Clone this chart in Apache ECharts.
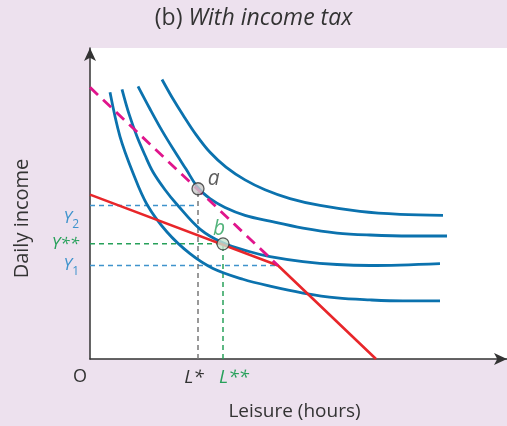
<!DOCTYPE html>
<html>
<head>
<meta charset="utf-8">
<script src="https://cdn.jsdelivr.net/npm/echarts@6/dist/echarts.min.js"></script>
<style>
html, body { margin: 0; padding: 0; background: #ede1ee; }
#main { width: 507px; height: 426px; }
</style>
</head>
<body>
<div id="main"></div>
<script>
// indifference curves, lowest to highest (leisure, income)
var curve1 = [[20,271],[30,226],[43,189],[57,157],[77,129],[100,107],[123,92],[153,81],[180,74],[213,67],[247,62],[280,60],[313,59],[350,59]];
var curve2 = [[32,274],[39,249],[47,226],[55,207],[63,190],[75,172],[87,157],[110,132],[133,118],[160,109],[180,104],[213,99],[247,96],[280,95],[350,97]];
var curve3 = [[48,277],[60,254],[72,232],[84,212],[96,193],[108,174],[120,163],[135,154],[155,146],[180,140],[213,133],[247,128],[280,126],[320,125],[357,125]];
var curve4 = [[72,284],[82,266],[93,248],[106,228],[120,210],[136,195],[155,182],[175,172],[200,163],[230,156],[270,150],[310,147],[353,146]];

// budget lines
var budgetNoTax = [[0,276],[188,95]];
var budgetTax = [[0,167],[188,95],[286,0]];

// chosen points
var pointA = [108,173];
var pointB = [133,117];
var incomeY2 = 156;
var incomeY1 = 95;

var yTicks = [incomeY1, pointB[1], incomeY2];
var xTicks = [0, pointA[0], pointB[0]];

function drawChart() {
    var myChart = echarts.init(document.getElementById('main'));
    var font = 'Open Sans';
    var blue = '#0b72ae';
    var guideBlue = '#3f93cc';
    var guideGreen = '#27a05a';

    function guide(pts, color) {
        return {
            type: 'line',
            data: pts,
            showSymbol: false,
            silent: true,
            z: 1,
            lineStyle: { color: color, width: 1.5, type: [5, 4] }
        };
    }
    function curve(pts) {
        return {
            type: 'line',
            data: pts,
            smooth: 0.35,
            showSymbol: false,
            silent: true,
            z: 3,
            lineStyle: { color: blue, width: 2.8 }
        };
    }

    var option = {
        animation: false,
        backgroundColor: '#ede1ee',
        title: {
            text: '{n|(b) }{i|With income tax}',
            left: 'center',
            top: 2,
            textStyle: {
                fontWeight: 'normal',
                rich: {
                    n: { fontFamily: font, fontSize: 23, color: '#333', fontWeight: 'normal' },
                    i: { fontFamily: font, fontSize: 23, color: '#333', fontStyle: 'italic', fontWeight: 'normal' }
                }
            }
        },
        grid: {
            left: 90, right: 0, top: 48, bottom: 62,
            show: true, backgroundColor: '#ffffff', borderWidth: 0
        },
        xAxis: {
            type: 'value', min: 0, max: 417,
            name: 'Leisure (hours)',
            nameLocation: 'middle',
            nameGap: 43,
            nameTextStyle: { fontFamily: font, fontSize: 19, color: '#333', padding: [0, 8, 0, 0] },
            axisLine: { lineStyle: { color: '#333', width: 1.5 }, symbol: ['none', 'arrow'], symbolSize: [9, 13] },
            axisTick: { show: false },
            splitLine: { show: false },
            axisLabel: {
                customValues: xTicks,
                margin: 9,
                formatter: function (v) {
                    if (v === 0) return '{o|O}';
                    if (v === pointA[0]) return '{ls|L*}';
                    return '{ll|L**}';
                },
                rich: {
                    o: { fontFamily: font, fontSize: 18, color: '#333', padding: [0, 20, 0, 0] },
                    ls: { fontFamily: font, fontSize: 19, color: '#333', fontStyle: 'italic', padding: [0, 8, 0, 0] },
                    ll: { fontFamily: font, fontSize: 19, color: guideGreen, fontStyle: 'italic', padding: [0, 0, 0, 22] }
                }
            }
        },
        yAxis: {
            type: 'value', min: 0, max: 316,
            name: 'Daily income',
            nameLocation: 'middle',
            nameGap: 58,
            nameRotate: 90,
            nameTextStyle: { fontFamily: font, fontSize: 20, color: '#333', padding: [0, 30, 0, 0] },
            axisLine: { lineStyle: { color: '#333', width: 1.5 }, symbol: ['none', 'arrow'], symbolSize: [9, 13] },
            axisTick: { show: false },
            splitLine: { show: false },
            axisLabel: {
                customValues: yTicks,
                margin: 11,
                formatter: function (v) {
                    if (v === incomeY2) return '{y2|Y}{s2|2}';
                    if (v === incomeY1) return '{y|Y}{s|1}';
                    return '{g|Y**}';
                },
                rich: {
                    y: { fontFamily: font, fontSize: 17, color: guideBlue, fontStyle: 'italic' },
                    s: { fontFamily: font, fontSize: 12, color: guideBlue, padding: [12, 0, 0, 0] },
                    y2: { fontFamily: font, fontSize: 17, color: guideBlue, fontStyle: 'italic', padding: [26, 0, 0, 0] },
                    s2: { fontFamily: font, fontSize: 12, color: guideBlue, padding: [38, 0, 0, 0] },
                    g: { fontFamily: font, fontSize: 17, color: guideGreen, fontStyle: 'italic' }
                }
            }
        },
        series: [
            guide([[0, incomeY2], [pointA[0], incomeY2]], guideBlue),
            guide([[0, pointB[1]], pointB], guideGreen),
            guide([[0, incomeY1], [budgetTax[1][0], incomeY1]], guideBlue),
            guide([[pointA[0], 0], pointA], '#777777'),
            guide([[pointB[0], 0], pointB], guideGreen),
            curve(curve1),
            curve(curve2),
            curve(curve3),
            curve(curve4),
            {
                type: 'line',
                data: budgetTax,
                showSymbol: false,
                silent: true,
                z: 4,
                lineStyle: { color: '#e8262a', width: 2.6 }
            },
            {
                type: 'line',
                data: budgetNoTax,
                showSymbol: false,
                silent: true,
                z: 5,
                lineStyle: { color: '#e0158c', width: 2.8, type: [11, 7] }
            },
            {
                type: 'scatter',
                z: 10,
                symbolSize: 12,
                silent: true,
                data: [
                    {
                        value: pointA,
                        itemStyle: { color: '#c9c9c9', borderColor: '#333', borderWidth: 1.3 },
                        label: { show: true, formatter: 'a', position: 'right', distance: 3, offset: [0, -10],
                            fontFamily: font, fontSize: 21, fontStyle: 'italic', color: '#333' }
                    },
                    {
                        value: pointB,
                        itemStyle: { color: '#c8e3cf', borderColor: '#333', borderWidth: 1.3 },
                        label: { show: true, formatter: 'b', position: 'top', distance: 0, offset: [-4, 2],
                            fontFamily: font, fontSize: 21, fontStyle: 'italic', color: guideGreen }
                    }
                ]
            }
        ]
    };

    myChart.setOption(option);
}

drawChart();
</script>
</body>
</html>
